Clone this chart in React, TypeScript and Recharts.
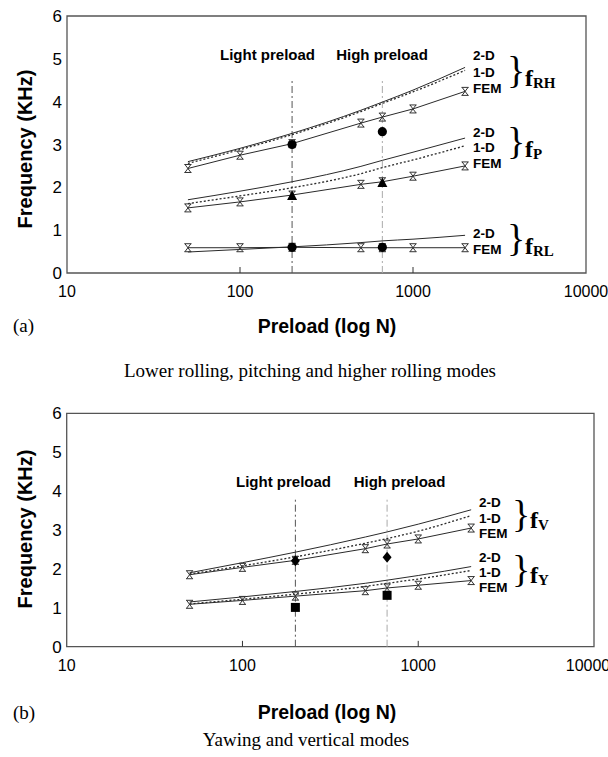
import React from 'react';
import {
  ComposedChart, Line, Scatter, XAxis, YAxis, ReferenceLine, ReferenceArea,
} from 'recharts';

// ---------- data ----------
const PRELOAD_N = [50, 100, 200, 500, 665, 1000, 2000];
const LIGHT_PRELOAD = 200;
const HIGH_PRELOAD = 665;
const EXP_PRELOAD = [200, 665];
const X_TICKS = [10, 100, 1000, 10000];
const Y_TICKS = [0, 1, 2, 3, 4, 5, 6];

// (a) lower rolling, pitching, higher rolling
const fRH_2D = [2.6, 2.91, 3.26, 3.8, 3.99, 4.27, 4.8];
const fRH_1D = [2.56, 2.88, 3.23, 3.77, 3.96, 4.23, 4.73];
const fRH_FEM = [2.44, 2.75, 3.02, 3.5, 3.64, 3.83, 4.24];
const fRH_EXP = [3.0, 3.3];

const fP_2D = [1.71, 1.91, 2.13, 2.49, 2.63, 2.82, 3.15];
const fP_1D = [1.62, 1.8, 1.99, 2.32, 2.46, 2.64, 2.97];
const fP_FEM = [1.52, 1.66, 1.82, 2.07, 2.13, 2.26, 2.5];
const fP_EXP = [1.8, 2.1];

const fRL_2D = [0.49, 0.55, 0.61, 0.71, 0.75, 0.79, 0.88];
const fRL_FEM = [0.59, 0.59, 0.6, 0.59, 0.59, 0.59, 0.59];
const fRL_EXP = [0.6, 0.6];

// (b) yawing and vertical
const fV_2D = [1.9, 2.16, 2.43, 2.82, 2.95, 3.15, 3.52];
const fV_1D = [1.87, 2.08, 2.31, 2.66, 2.78, 2.97, 3.37];
const fV_FEM = [1.85, 2.04, 2.22, 2.52, 2.64, 2.77, 3.05];
const fV_EXP = [2.21, 2.3];

const fY_2D = [1.15, 1.28, 1.42, 1.63, 1.71, 1.83, 2.06];
const fY_1D = [1.1, 1.22, 1.35, 1.55, 1.63, 1.74, 1.96];
const fY_FEM = [1.09, 1.19, 1.3, 1.44, 1.51, 1.58, 1.7];
const fY_EXP = [1.01, 1.32];

const pts = (xs: number[], ys: number[]) => xs.map((x, i) => ({ x, y: ys[i] }));

// ---------- styling ----------
const SANS = 'Liberation Sans, Arial, sans-serif';
const SERIF = 'Liberation Serif, Times New Roman, serif';
const LINE = '#2a2a2a';
const FRAME = '#555';

const XMarker = (props: any) => {
  const { cx, cy, key } = props;
  if (cx == null || cy == null) return <g key={key} />;
  const d = `M${cx - 3.5},${cy - 4}H${cx + 3.5}M${cx - 3.5},${cy + 4}H${cx + 3.5}M${cx - 3},${cy - 4}L${cx + 3},${cy + 4}M${cx + 3},${cy - 4}L${cx - 3},${cy + 4}`;
  return <path key={key} d={d} stroke="#333" strokeWidth={1} fill="none" />;
};

const CircleShape = (p: any) => <circle cx={p.cx} cy={p.cy} r={4.6} fill="#000" />;
const TriangleShape = (p: any) => (
  <path d={`M${p.cx},${p.cy - 5.5}L${p.cx + 5},${p.cy + 4}L${p.cx - 5},${p.cy + 4}Z`} fill="#000" />
);
const DiamondShape = (p: any) => (
  <path d={`M${p.cx},${p.cy - 5.5}L${p.cx + 4.5},${p.cy}L${p.cx},${p.cy + 5.5}L${p.cx - 4.5},${p.cy}Z`} fill="#000" />
);
const SquareShape = (p: any) => <rect x={p.cx - 4.5} y={p.cy - 4.5} width={9} height={9} fill="#000" />;

const modelLine = (key: string, ys: number[], dotted: boolean) => (
  <Line
    key={key}
    data={pts(PRELOAD_N, ys)}
    dataKey="y"
    type="monotone"
    stroke={LINE}
    strokeWidth={dotted ? 1.3 : 1}
    strokeDasharray={dotted ? '2 2' : undefined}
    dot={false}
    activeDot={false}
    isAnimationActive={false}
  />
);

const femLine = (key: string, ys: number[]) => (
  <Line
    key={key}
    data={pts(PRELOAD_N, ys)}
    dataKey="y"
    type="linear"
    stroke={LINE}
    strokeWidth={1}
    dot={XMarker}
    activeDot={false}
    isAnimationActive={false}
  />
);

const expScatter = (key: string, ys: number[], shape: any) => (
  <Scatter key={key} data={pts(EXP_PRELOAD, ys)} dataKey="y" shape={shape} isAnimationActive={false} />
);

const axes = (tickLen: number, lightTop: number, highTop: number) => [
  <XAxis
    key="xa"
    dataKey="x"
    type="number"
    scale="log"
    domain={[10, 10000]}
    ticks={X_TICKS}
    allowDataOverflow
    tickLine={false}
    axisLine={false}
    tickSize={6}
    tickMargin={7}
    tick={{ fontSize: 16, fill: '#000', fontFamily: SANS }}
  />,
  <YAxis
    key="ya"
    type="number"
    domain={[0, 6]}
    ticks={Y_TICKS}
    width={40}
    tickLine={false}
    axisLine={false}
    tickSize={3}
    tickMargin={2}
    tick={{ fontSize: 17, fill: '#000', fontFamily: SANS }}
  />,
  <ReferenceArea key="frame" x1={10} x2={10000} y1={0} y2={6} fill="none" stroke={FRAME} strokeWidth={1.3} />,
  <ReferenceLine key="t100" segment={[{ x: 100, y: 0 }, { x: 100, y: tickLen }]} stroke="#333" />,
  <ReferenceLine key="t1000" segment={[{ x: 1000, y: 0 }, { x: 1000, y: tickLen }]} stroke="#333" />,
  <ReferenceLine
    key="light"
    segment={[{ x: LIGHT_PRELOAD, y: 0 }, { x: LIGHT_PRELOAD, y: lightTop }]}
    stroke="#555"
    strokeDasharray="7 3 2 3"
  />,
  <ReferenceLine
    key="high"
    segment={[{ x: HIGH_PRELOAD, y: 0 }, { x: HIGH_PRELOAD, y: highTop }]}
    stroke="#aaa"
    strokeDasharray="7 3 2 3"
  />,
];

const T = (p: any) => <text fontFamily={SANS} fontWeight="bold" fill="#000" {...p} />;

const Brace = ({ x, y }: { x: number; y: number }) => (
  <text x={x} y={y} fontFamily={SERIF} fontSize={38} fill="#000">{'}'}</text>
);

const FLabel = ({ x, y, sub }: { x: number; y: number; sub: string }) => (
  <text x={x} y={y} fontFamily={SERIF} fontWeight="bold" fill="#000" fontSize={24}>
    f<tspan fontSize={15} dy={2}>{sub}</tspan>
  </text>
);

export default function App() {
  return (
    <div style={{ position: 'absolute', left: 0, top: 0, width: 608, height: 757, background: '#fff' }}>
      <div style={{ position: 'absolute', left: 0, top: 0 }}>
        <ComposedChart width={608} height={310} margin={{ top: 16, right: 22, bottom: 7, left: 27 }}>
          {axes(0.14, 4.5, 4.5)}
          {modelLine('rh2', fRH_2D, false)}
          {modelLine('rh1', fRH_1D, true)}
          {femLine('rhf', fRH_FEM)}
          {modelLine('p2', fP_2D, false)}
          {modelLine('p1', fP_1D, true)}
          {femLine('pf', fP_FEM)}
          {modelLine('rl2', fRL_2D, false)}
          {femLine('rlf', fRL_FEM)}
          {expScatter('rhe', fRH_EXP, CircleShape)}
          {expScatter('pe', fP_EXP, TriangleShape)}
          {expScatter('rle', fRL_EXP, CircleShape)}
        </ComposedChart>
      </div>
      <div style={{ position: 'absolute', left: 0, top: 400 }}>
        <ComposedChart width={608} height={280} margin={{ top: 13.3, right: 14, bottom: 3.3, left: 26.7 }}>
          {axes(0.15, 3.8, 3.8)}
          {modelLine('v2', fV_2D, false)}
          {modelLine('v1', fV_1D, true)}
          {femLine('vf', fV_FEM)}
          {modelLine('y2', fY_2D, false)}
          {modelLine('y1', fY_1D, true)}
          {femLine('yf', fY_FEM)}
          {expScatter('ve', fV_EXP, DiamondShape)}
          {expScatter('ye', fY_EXP, SquareShape)}
        </ComposedChart>
      </div>
      <svg width={608} height={757} style={{ position: 'absolute', left: 0, top: 0, pointerEvents: 'none' }}>
        {/* axis titles */}
        <T x={25} y={149} fontSize={20} textAnchor="middle" dominantBaseline="central" transform="rotate(-90 25 149)">Frequency (KHz)</T>
        <T x={25} y={529} fontSize={20} textAnchor="middle" dominantBaseline="central" transform="rotate(-90 25 529)">Frequency (KHz)</T>
        <T x={327} y={333} fontSize={19.5} textAnchor="middle">Preload (log N)</T>
        <T x={327} y={719} fontSize={19.5} textAnchor="middle">Preload (log N)</T>
        <text x={13} y={332} fontFamily={SERIF} fontSize={19} fill="#000">(a)</text>
        <text x={13} y={719} fontFamily={SERIF} fontSize={19} fill="#000">(b)</text>
        <text x={310} y={377} fontFamily={SERIF} fontSize={19} fill="#000" textAnchor="middle">Lower rolling, pitching and higher rolling modes</text>
        <text x={306} y={746} fontFamily={SERIF} fontSize={19} fill="#000" textAnchor="middle">Yawing and vertical modes</text>

        {/* preload annotations */}
        <T x={267.5} y={60.4} fontSize={15} textAnchor="middle">Light preload</T>
        <T x={382} y={60.4} fontSize={15} textAnchor="middle">High preload</T>
        <T x={283.5} y={487} fontSize={15} textAnchor="middle">Light preload</T>
        <T x={399.5} y={487} fontSize={15} textAnchor="middle">High preload</T>

        {/* series labels (a) */}
        <T x={473} y={59.8} fontSize={13.5}>2-D</T>
        <T x={473} y={76.5} fontSize={13.5}>1-D</T>
        <T x={473} y={93.1} fontSize={13.5}>FEM</T>
        <Brace x={507} y={83} />
        <FLabel x={525} y={86} sub="RH" />

        <T x={473} y={136.5} fontSize={13.5}>2-D</T>
        <T x={473} y={152.1} fontSize={13.5}>1-D</T>
        <T x={473} y={168.1} fontSize={13.5}>FEM</T>
        <Brace x={507} y={154} />
        <FLabel x={525} y={157} sub="P" />

        <T x={473} y={237.8} fontSize={13.5}>2-D</T>
        <T x={473} y={253.8} fontSize={13.5}>FEM</T>
        <Brace x={507} y={251} />
        <FLabel x={525} y={254} sub="RL" />

        {/* series labels (b) */}
        <T x={479} y={506.5} fontSize={13.5}>2-D</T>
        <T x={479} y={522.5} fontSize={13.5}>1-D</T>
        <T x={479} y={538.1} fontSize={13.5}>FEM</T>
        <Brace x={512} y={527} />
        <FLabel x={530} y={528} sub="V" />

        <T x={479} y={561.5} fontSize={13.5}>2-D</T>
        <T x={479} y={576.5} fontSize={13.5}>1-D</T>
        <T x={479} y={592.1} fontSize={13.5}>FEM</T>
        <Brace x={512} y={582} />
        <FLabel x={530} y={583} sub="Y" />
      </svg>
    </div>
  );
}
